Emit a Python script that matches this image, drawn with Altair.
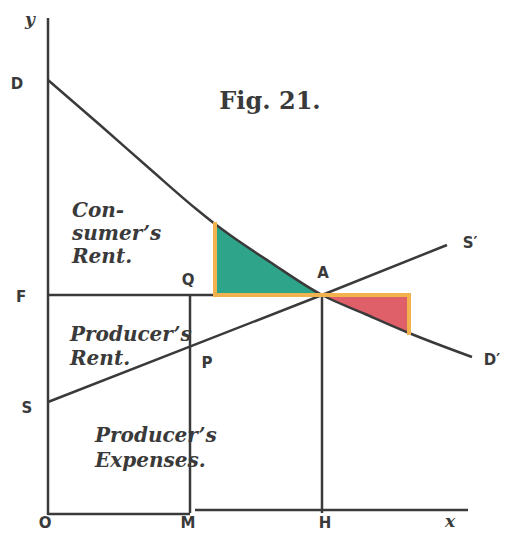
import altair as alt
import pandas as pd

# Demand curve D-D' (quantity, price)
demand_q = [0, 5.2, 10.2, 14.7, 16.7, 18.2, 22.2, 27.4, 31.7, 36.1, 42.4]
demand_p = [43.3, 38.8, 34.4, 30.5, 28.9, 27.8, 25.1, 21.8, 19.9, 18.0, 15.6]
# Supply curve S-S'
supply_q = [0, 27.4, 39.9]
supply_p = [11.1, 21.8, 26.8]
# Equilibrium A, price level F, quantity M
eq_q = 27.4
eq_p = 21.8
m_q = 14.2
# Shaded triangles
green_q = [16.7, 18.2, 22.2, 27.4]
green_p = [28.9, 27.8, 25.1, 21.8]
red_q = [27.4, 31.7, 36.1]
red_p = [21.8, 19.9, 18.0]
# axes extents
x_max = 42.0
y_max = 49.5

point_labels = ["D", "F", "S", "O", "M", "H", "A", "Q", "P", "S\u2032", "D\u2032"]
point_lx = [-3.1, -2.7, -2.1, -0.3, 14.0, 27.7, 27.5, 14.0, 15.9, 42.2, 44.4]
point_ly = [42.9, 21.6, 10.5, -1.0, -1.0, -1.0, 24.0, 23.3, 15.0, 27.0, 15.3]

axis_labels = ["y", "x"]
axis_lx = [-1.8, 40.2]
axis_ly = [49.3, -0.9]

region_labels = ["Con-", "sumer\u2019s", "Rent.", "Producer\u2019s", "Rent.", "Producer\u2019s", "Expenses."]
region_lx = [2.4, 2.4, 2.4, 2.2, 2.2, 4.7, 4.7]
region_ly = [29.6, 27.3, 25.0, 17.2, 14.8, 7.1, 4.6]

title_text = "Fig. 21."
title_x = 22.2
title_y = 41.1

INK = "#3a3a3a"
ORANGE = "#f2b24e"
GREEN = "#2ea48a"
RED = "#e0606a"

XS = alt.Scale(domain=[-4.0, 45.6], nice=False, zero=False)
YS = alt.Scale(domain=[-2.0, 50.5], nice=False, zero=False)

def X(f="q"):
    return alt.X(f"{f}:Q", scale=XS, axis=None)

def Y(f="p"):
    return alt.Y(f"{f}:Q", scale=YS, axis=None)

green_df = pd.DataFrame({"q": green_q, "p": green_p, "f": eq_p})
red_df = pd.DataFrame({"q": red_q, "p": red_p, "f": eq_p})
demand_df = pd.DataFrame({"q": demand_q, "p": demand_p})
supply_df = pd.DataFrame({"q": supply_q, "p": supply_p})

green = alt.Chart(green_df).mark_area(color=GREEN, interpolate="monotone", opacity=1).encode(
    x=X(), y=Y(), y2="f:Q")
red = alt.Chart(red_df).mark_area(color=RED, interpolate="monotone", opacity=1).encode(
    x=X(), y=Y(), y2="f:Q")

segs = pd.DataFrame({
    "q": [0, 0, m_q + 0.5, 0, m_q, eq_q],
    "q2": [0, m_q, x_max, eq_q, m_q, eq_q],
    "p": [-0.2, -0.1, 0.3, eq_p, 0, 0],
    "p2": [y_max, -0.1, 0.3, eq_p, eq_p, eq_p],
})
rules = alt.Chart(segs).mark_rule(color=INK, strokeWidth=2.5).encode(
    x=X(), x2="q2:Q", y=Y(), y2="p2:Q")

demand = alt.Chart(demand_df).mark_line(color=INK, strokeWidth=2.5, interpolate="monotone").encode(
    x=X(), y=Y())
supply = alt.Chart(supply_df).mark_line(color=INK, strokeWidth=2.5).encode(x=X(), y=Y())

orange_df = pd.DataFrame({
    "q": [green_q[0], green_q[0], red_q[-1]],
    "q2": [green_q[0], red_q[-1], red_q[-1]],
    "p": [green_p[0], eq_p, eq_p],
    "p2": [eq_p, eq_p, red_p[-1]],
})
orange = alt.Chart(orange_df).mark_rule(color=ORANGE, strokeWidth=4, strokeCap="square").encode(
    x=X(), x2="q2:Q", y=Y(), y2="p2:Q")

pts = alt.Chart(pd.DataFrame({"t": point_labels, "q": point_lx, "p": point_ly})).mark_text(
    font="DejaVu Sans", fontWeight="bold", fontSize=15, color=INK, align="center", baseline="middle"
).encode(x=X(), y=Y(), text="t:N")

axl = alt.Chart(pd.DataFrame({"t": axis_labels, "q": axis_lx, "p": axis_ly})).mark_text(
    font="DejaVu Serif", fontWeight="bold", fontStyle="italic", fontSize=17, color=INK,
    align="center", baseline="middle"
).encode(x=X(), y=Y(), text="t:N")

regions = alt.Chart(pd.DataFrame({"t": region_labels, "q": region_lx, "p": region_ly})).mark_text(
    font="DejaVu Serif", fontWeight="bold", fontStyle="italic", fontSize=20, color=INK,
    align="left", baseline="alphabetic"
).encode(x=X(), y=Y(), text="t:N")

title = alt.Chart(pd.DataFrame({"t": [title_text], "q": [title_x], "p": [title_y]})).mark_text(
    font="DejaVu Serif", fontWeight="bold", fontSize=24, color=INK, align="center", baseline="middle"
).encode(x=X(), y=Y(), text="t:N")

chart = alt.layer(green, red, rules, demand, supply, orange, pts, axl, regions, title).properties(
    width=496, height=525, padding=0, autosize="none", background="white"
).configure_view(stroke=None)

chart.save("out.html", embed_options={"renderer": "svg", "actions": False})
